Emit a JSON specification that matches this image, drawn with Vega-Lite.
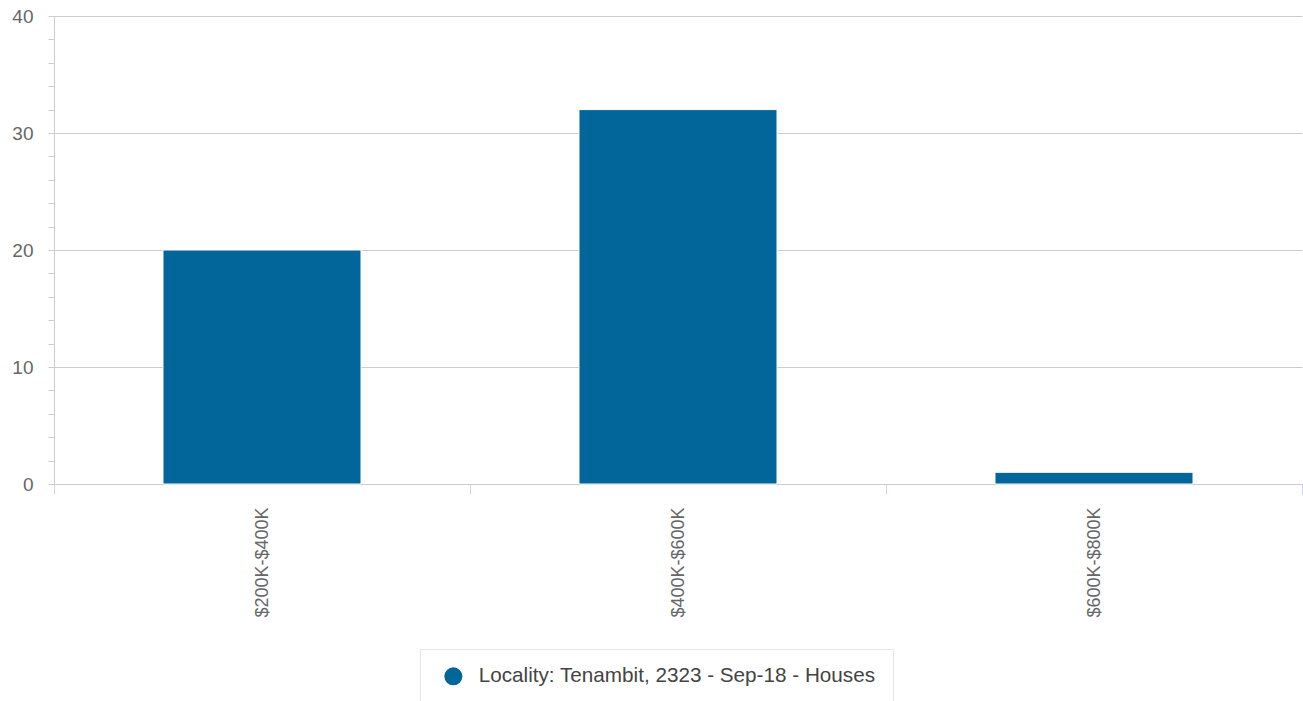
{
  "$schema": "https://vega.github.io/schema/vega-lite/v6.json",
  "width": 1248,
  "height": 468,
  "autosize": "none",
  "padding": {"left": 54, "top": 16, "right": 1, "bottom": 217},
  "background": "white",
  "config": {"view": {"stroke": null}, "font": "Liberation Sans"},
  "data": {
    "values": [
      {"range": "$200K-$400K", "count": 20, "series": "Locality: Tenambit, 2323 - Sep-18 - Houses"},
      {"range": "$400K-$600K", "count": 32, "series": "Locality: Tenambit, 2323 - Sep-18 - Houses"},
      {"range": "$600K-$800K", "count": 1, "series": "Locality: Tenambit, 2323 - Sep-18 - Houses"}
    ]
  },
  "mark": {"type": "bar", "stroke": "white", "strokeWidth": 1, "width": {"band": 0.476}},
  "encoding": {
    "x": {
      "field": "range",
      "type": "nominal",
      "sort": null,
      "scale": {"paddingInner": 0, "paddingOuter": 0},
      "axis": {
        "title": null,
        "labelAngle": -90,
        "labelFontSize": 18,
        "labelColor": "#666666",
        "labelPadding": 13,
        "tickBand": "extent",
        "tickColor": "#ccd6eb",
        "tickSize": 10,
        "domainColor": "#cccccc",
        "grid": false
      }
    },
    "y": {
      "field": "count",
      "type": "quantitative",
      "scale": {"domain": [0, 40], "nice": false},
      "axis": {
        "title": null,
        "values": [0, 2, 4, 6, 8, 10, 12, 14, 16, 18, 20, 22, 24, 26, 28, 30, 32, 34, 36, 38, 40],
        "labelExpr": "datum.value % 10 === 0 ? datum.label : ''",
        "gridOpacity": {"condition": {"test": "datum.value % 10 === 0", "value": 1}, "value": 0},
        "gridColor": "#cccccc",
        "tickSize": 6,
        "tickColor": "#cccccc",
        "domainColor": "#cccccc",
        "labelFontSize": 19,
        "labelColor": "#666666",
        "labelPadding": 15
      }
    },
    "color": {
      "field": "series",
      "type": "nominal",
      "scale": {"range": ["#02669a"]},
      "legend": {
        "title": null,
        "orient": "none",
        "legendX": 366,
        "legendY": 633,
        "symbolType": "circle",
        "symbolSize": 324,
        "symbolStrokeWidth": 0,
        "symbolOpacity": 1,
        "symbolOffset": 6,
        "labelFontSize": 20.7,
        "labelColor": "#444444",
        "labelOffset": 15,
        "labelLimit": 0,
        "padding": 17,
        "strokeColor": "#e6e6e6",
        "fillColor": "white"
      }
    }
  }
}
